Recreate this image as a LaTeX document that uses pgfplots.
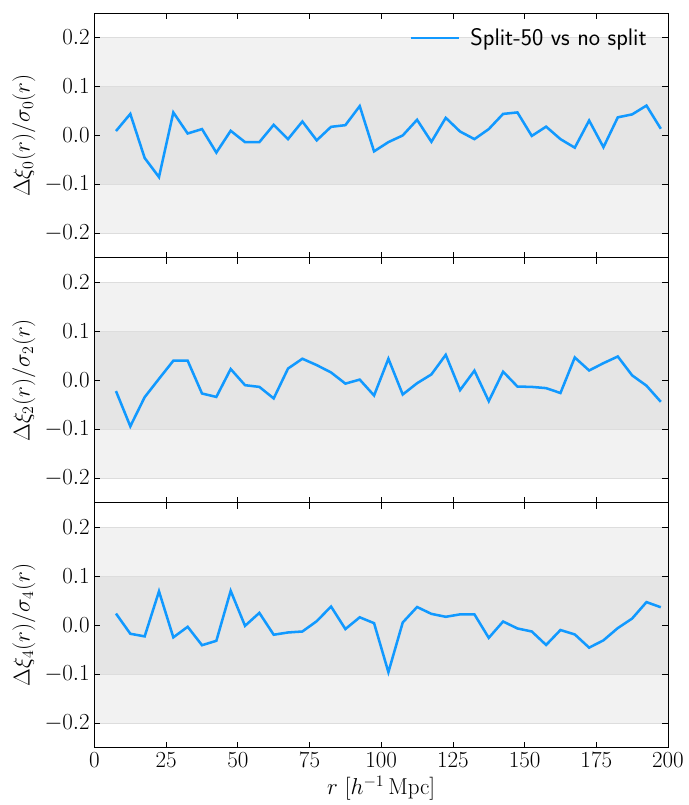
\documentclass[border=0pt]{standalone}
\usepackage{pgfplots}
\pgfplotsset{compat=1.18}
\usepgfplotslibrary{groupplots}
\definecolor{lineblue}{HTML}{1199FF}
\definecolor{bandlight}{HTML}{F2F2F2}
\definecolor{banddark}{HTML}{E5E5E5}
\definecolor{bandedge}{HTML}{DDDDDD}
\begin{document}
\begin{tikzpicture}
\pgfplotsset{
  every axis/.append style={
    scale only axis,
    width=431pt, height=184pt,
    xmin=0, xmax=200, ymin=-0.25, ymax=0.25,
    xtick={0,25,...,200},
    ytick={-0.2,-0.1,0,0.1,0.2},
    yticklabel style={/pgf/number format/.cd,fixed,fixed zerofill,precision=1},
    tick align=inside,
    major tick length=4.5pt,
    minor tick num=0,
    tick style={black, line width=0.6pt},
    axis line style={line width=0.7pt},
    tick label style={font=\fontsize{17}{20}\selectfont},
    label style={font=\fontsize{17}{20}\selectfont},
    xtick pos=both, ytick pos=both,
    axis on top,
  },
}
\newcommand{\bands}{%
  \addplot[fill=bandlight, draw=bandedge, line width=0.5pt, forget plot] coordinates {(0,-0.2) (200,-0.2) (200,0.2) (0,0.2)} -- cycle;
  \addplot[fill=banddark, draw=bandedge, line width=0.5pt, forget plot] coordinates {(0,-0.1) (200,-0.1) (200,0.1) (0,0.1)} -- cycle;
}
\begin{groupplot}[
  group style={group size=1 by 3, vertical sep=0pt, xticklabels at=edge bottom},
]
\nextgroupplot[
  ylabel={$\Delta\xi_0(r)/\sigma_0(r)$},
  legend style={draw=none, fill=none, at={(0.975,0.96)}, anchor=north east, font=\sffamily\fontsize{18}{21}\selectfont,
    /tikz/every odd column/.append style={column sep=6pt}},
  legend image code/.code={\draw[#1] (0pt,0pt) -- (36pt,0pt);},
]
\bands
\addplot[lineblue, line width=1.9pt] coordinates {
(7.5,0.009) (12.5,0.044) (17.5,-0.046) (22.5,-0.085) (27.5,0.047) (32.5,0.004) (37.5,0.013) (42.5,-0.035) (47.5,0.0095) (52.5,-0.0136) (57.5,-0.0136) (62.5,0.0217) (67.5,-0.0075) (72.5,0.0285) (77.5,-0.010) (82.5,0.0176) (87.5,0.021) (92.5,0.060) (97.5,-0.0325)
(102.5,-0.0136) (107.5,0.0) (112.5,0.032) (117.5,-0.013) (122.5,0.036) (127.5,0.008) (132.5,-0.0075) (137.5,0.013) (142.5,0.044) (147.5,0.047) (152.5,-0.001) (157.5,0.018) (162.5,-0.0075) (167.5,-0.025) (172.5,0.0305) (177.5,-0.024) (182.5,0.037) (187.5,0.043) (192.5,0.061) (197.5,0.0136)
};
\addlegendentry{Split-50 vs no split}
\nextgroupplot[
  ylabel={$\Delta\xi_2(r)/\sigma_2(r)$},
]
\bands
\addplot[lineblue, line width=1.9pt] coordinates {
(7.5,-0.022) (12.5,-0.094) (17.5,-0.0345) (22.5,0.003) (27.5,0.040) (32.5,0.040) (37.5,-0.027) (42.5,-0.034) (47.5,0.023) (52.5,-0.010) (57.5,-0.0135) (62.5,-0.037) (67.5,0.024) (72.5,0.044) (77.5,0.031) (82.5,0.016) (87.5,-0.0068) (92.5,0.0014) (97.5,-0.031)
(102.5,0.044) (107.5,-0.029) (112.5,-0.006) (117.5,0.012) (122.5,0.052) (127.5,-0.020) (132.5,0.0196) (137.5,-0.0426) (142.5,0.0176) (147.5,-0.0128) (152.5,-0.0135) (157.5,-0.016) (162.5,-0.026) (167.5,0.0466) (172.5,0.020) (177.5,0.035) (182.5,0.0486) (187.5,0.010) (192.5,-0.011) (197.5,-0.044)
};
\nextgroupplot[
  ylabel={$\Delta\xi_4(r)/\sigma_4(r)$},
  xlabel={$r\ [h^{-1}\,\mathrm{Mpc}]$},
]
\bands
\addplot[lineblue, line width=1.9pt] coordinates {
(7.5,0.0236) (12.5,-0.0176) (17.5,-0.023) (22.5,0.069) (27.5,-0.025) (32.5,-0.0034) (37.5,-0.041) (42.5,-0.032) (47.5,0.070) (52.5,-0.0014) (57.5,0.025) (62.5,-0.0196) (67.5,-0.015) (72.5,-0.013) (77.5,0.008) (82.5,0.038) (87.5,-0.008) (92.5,0.016) (97.5,0.004)
(102.5,-0.096) (107.5,0.0054) (112.5,0.037) (117.5,0.023) (122.5,0.017) (127.5,0.022) (132.5,0.022) (137.5,-0.026) (142.5,0.0074) (147.5,-0.0068) (152.5,-0.013) (157.5,-0.0405) (162.5,-0.010) (167.5,-0.019) (172.5,-0.046) (177.5,-0.031) (182.5,-0.006) (187.5,0.0135) (192.5,0.047) (197.5,0.0365)
};
\end{groupplot}
\path ([xshift=-71pt,yshift=9.8pt]group c1r1.north west) ([xshift=15pt]group c1r3.south east);
\end{tikzpicture}
\end{document}
